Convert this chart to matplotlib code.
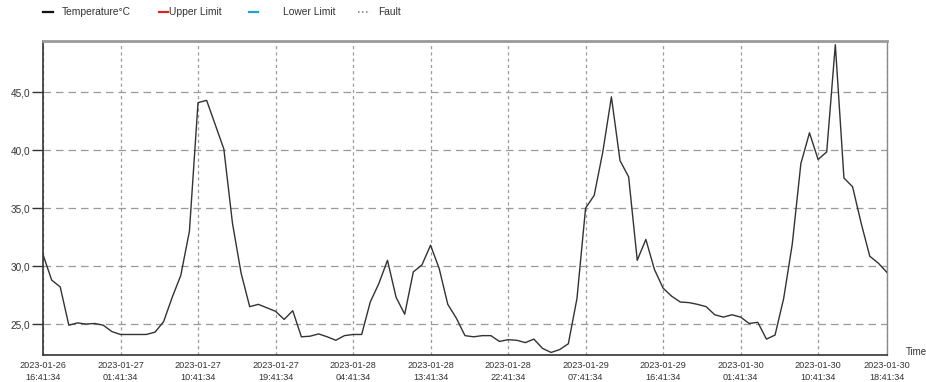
import numpy as np
import pandas as pd
import matplotlib
matplotlib.use('Agg')
import matplotlib.pyplot as plt
import matplotlib.dates as mdates
from matplotlib.lines import Line2D
from matplotlib.ticker import FuncFormatter

plt.rcParams['font.family'] = ['Liberation Sans', 'DejaVu Sans']

# hourly readings starting 2023-01-26 16:41:34
start_time = '2023-01-26 16:41:34'
temperature = [
    31.0, 28.8, 28.2, 24.9, 25.1, 25.0, 25.05, 24.9, 24.35, 24.1,
    24.1, 24.1, 24.1, 24.3, 25.2, 27.3, 29.2, 33.0, 44.1, 44.3,
    42.2, 40.1, 33.7, 29.4, 26.5, 26.7, 26.4, 26.1, 25.4, 26.15,
    23.9, 23.95, 24.15, 23.9, 23.6, 24.0, 24.1, 24.1, 26.9, 28.5,
    30.5, 27.3, 25.85, 29.5, 30.1, 31.8, 29.8, 26.7, 25.5, 24.0,
    23.9, 24.0, 24.0, 23.5, 23.65, 23.6, 23.4, 23.7, 22.9, 22.55,
    22.8, 23.3, 27.2, 35.0, 36.1, 39.85, 44.6, 39.1, 37.7, 30.5,
    32.3, 29.7, 28.1, 27.4, 26.9, 26.85, 26.7, 26.5, 25.8, 25.6,
    25.8, 25.6, 25.05, 25.15, 23.7, 24.05, 27.2, 31.9, 38.85, 41.5,
    39.2, 39.85, 49.1, 37.6, 36.85, 33.7, 30.85, 30.25, 29.45,
]
y_ticks = [25, 30, 35, 40, 45]
tick_step_hours = 9

legend_labels = ['Temperature°C', 'Upper Limit', 'Lower Limit', 'Fault']
legend_colors = ['#111111', '#d62728', '#2a9fc4', '#777777']
legend_styles = ['-', '-', '-', (0, (1, 1.6))]
legend_widths = [1.6, 1.6, 1.6, 1.1]

times = pd.date_range(start_time, periods=len(temperature), freq='h')

fig = plt.figure(figsize=(9.26, 3.82), dpi=100)
ax = fig.add_axes([43 / 926, 27 / 382, 844 / 926, 314 / 382])

ax.plot(times, temperature, color='#333333', linewidth=1.0, zorder=3)

ax.set_xlim(times[0], times[-1])
ax.set_ylim(22.33, 49.42)

xt = list(times[::tick_step_hours])
if xt[-1] != times[-1]:
    xt.append(times[-1])
ax.set_xticks(xt)
ax.xaxis.set_major_formatter(mdates.DateFormatter('%Y-%m-%d\n%H:%M:%S'))
ax.set_yticks(y_ticks)
ax.yaxis.set_major_formatter(FuncFormatter(lambda v, p: '{:.1f}'.format(v).replace('.', ',')))

ax.tick_params(axis='x', length=0, pad=4, labelsize=6.6, colors='#333333')
ax.tick_params(axis='y', length=8, width=1.0, pad=1, labelsize=7.2,
               colors='#333333')
for lbl in ax.get_xticklabels():
    lbl.set_linespacing(1.5)

ax.grid(axis='y', color='#9a9a9a', linestyle=(0, (6, 4)), linewidth=0.9)
ax.grid(axis='x', color='#9a9a9a', linestyle=(0, (2.5, 2.5)), linewidth=0.9)

for side in ['left', 'bottom']:
    ax.spines[side].set_color('#333333')
    ax.spines[side].set_linewidth(1.2)
ax.spines['top'].set_color('#9a9a9a')
ax.spines['top'].set_linewidth(2.0)
ax.spines['right'].set_color('#8a8a8a')
ax.spines['right'].set_linewidth(1.0)

fig.text(906 / 926, 1 - 352 / 382, 'Time', fontsize=7, color='#333333',
         va='center', ha='left')

# legend row along the top edge
handle_x = [(43, 53), (159, 168), (249, 258), (358, 370)]
text_x = [62, 169, 283, 378]
ly = 1 - 12 / 382
for (x0, x1), tx, lab, col, ls, lw in zip(handle_x, text_x, legend_labels,
                                          legend_colors, legend_styles,
                                          legend_widths):
    fig.add_artist(Line2D([x0 / 926, x1 / 926], [ly, ly], color=col,
                          linestyle=ls, linewidth=lw,
                          transform=fig.transFigure))
    fig.text(tx / 926, ly, lab, fontsize=7.4, color='#333333',
             va='center', ha='left')

fig.savefig('out.png', dpi=100)
